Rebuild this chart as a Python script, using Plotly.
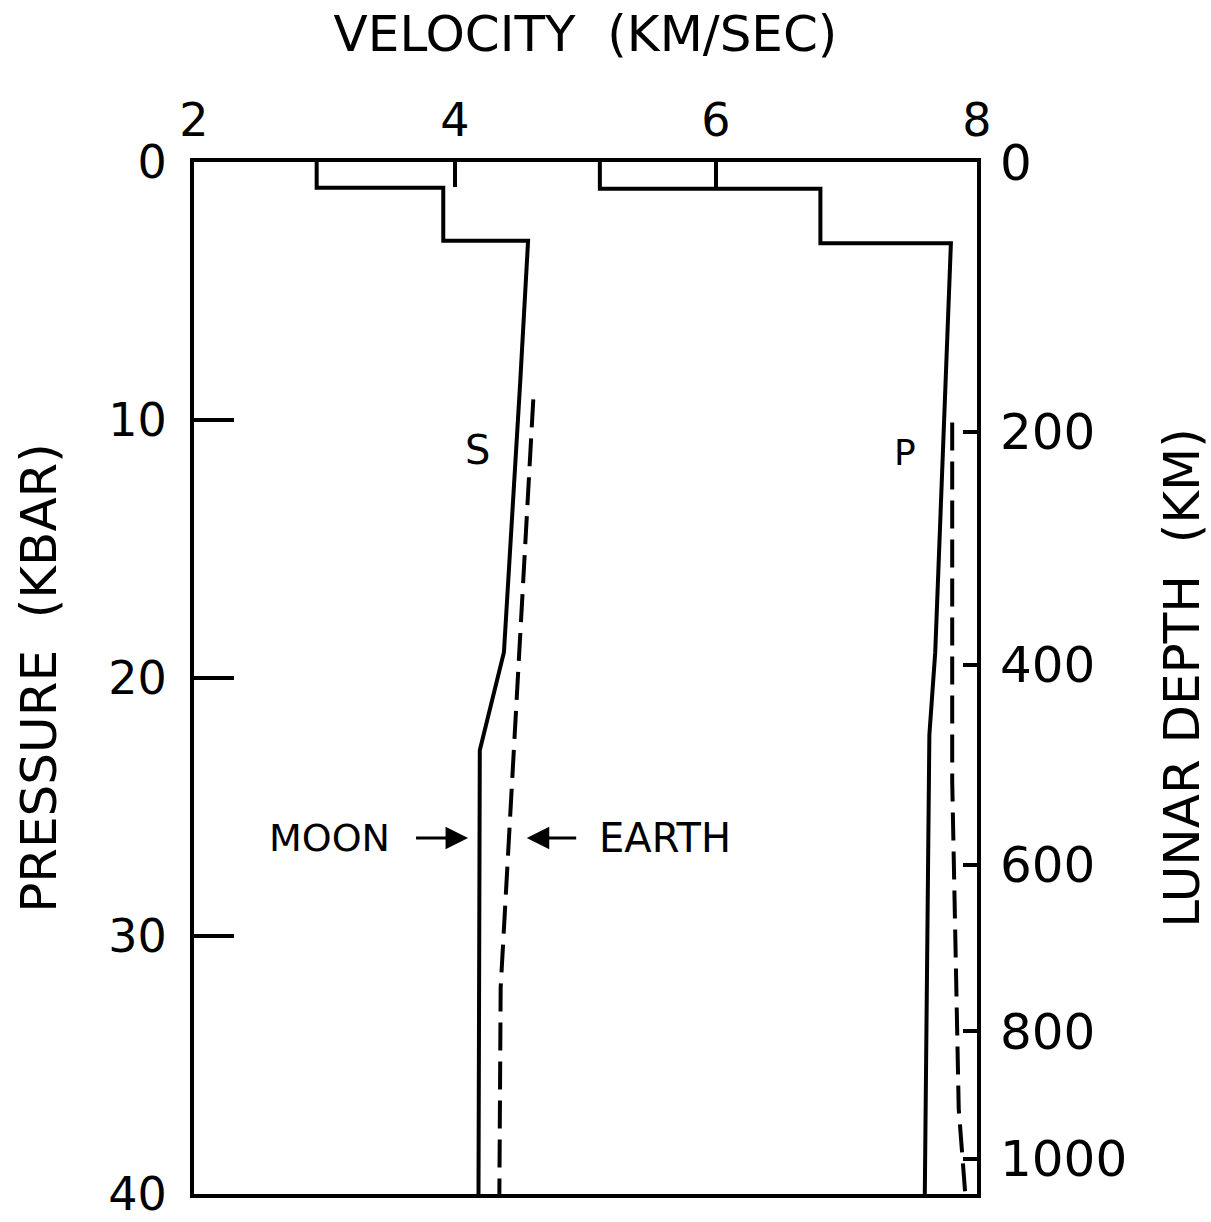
import plotly.graph_objects as go

# Moon velocity profiles (pressure in kbar, velocity in km/sec)
s_moon_pressure = [0, 1.0, 1.0, 3.05, 3.05, 8.5, 19.0, 22.8, 40]
s_moon_velocity = [2.94, 2.94, 3.91, 3.91, 4.56, 4.50, 4.375, 4.19, 4.18]

p_moon_pressure = [0, 1.04, 1.04, 3.15, 3.15, 19.0, 22.2, 40]
p_moon_velocity = [5.11, 5.11, 6.80, 6.80, 7.80, 7.68, 7.635, 7.60]

# Earth reference profiles
s_earth_pressure = [9.2, 26.5, 32.0, 40]
s_earth_velocity = [4.60, 4.405, 4.35, 4.34]

p_earth_pressure = [10.1, 24.0, 31.6, 36.7, 40]
p_earth_velocity = [7.81, 7.81, 7.84, 7.86, 7.91]

# Axis ticks
velocity_ticks = [2, 4, 6, 8]
pressure_ticks = [0, 10, 20, 30, 40]
lunar_depth_labels = ["0", "200", "400", "600", "800", "1000"]
lunar_depth_pressure = [0, 10.45, 19.48, 27.23, 33.7, 38.64]

FONT = "DejaVu Sans"
INK = "black"

fig = go.Figure()

solid = dict(color=INK, width=4)
dashed = dict(color=INK, width=4, dash="28px,11px")

fig.add_trace(go.Scatter(x=s_moon_velocity, y=s_moon_pressure, mode="lines",
                         line=solid, name="S moon", showlegend=False))
fig.add_trace(go.Scatter(x=p_moon_velocity, y=p_moon_pressure, mode="lines",
                         line=solid, name="P moon", showlegend=False))
fig.add_trace(go.Scatter(x=s_earth_velocity, y=s_earth_pressure, mode="lines",
                         line=dashed, name="S earth", showlegend=False))
fig.add_trace(go.Scatter(x=p_earth_velocity, y=p_earth_pressure, mode="lines",
                         line=dashed, name="P earth", showlegend=False))
# carrier for the lunar depth scale on the right
fig.add_trace(go.Scatter(x=[8] * len(lunar_depth_pressure), y=lunar_depth_pressure,
                         mode="markers", marker=dict(opacity=0), yaxis="y2",
                         hoverinfo="skip", showlegend=False))

axis_common = dict(showgrid=False, zeroline=False, ticks="inside", tickwidth=4,
                   tickcolor=INK, automargin=False, ticklabeloverflow="allow")

fig.update_layout(
    width=1211, height=1222, autosize=False,
    paper_bgcolor="white", plot_bgcolor="white",
    margin=dict(l=194, r=234, t=162, b=28),
    font=dict(family=FONT, color=INK),
    xaxis=dict(range=[2, 8], side="top", tickvals=velocity_ticks, ticklen=25,
               showline=True, linewidth=4, linecolor=INK, mirror=True,
               ticklabelstandoff=4,
               tickfont=dict(family=FONT, size=46, color=INK),
               title=dict(text="VELOCITY  (KM/SEC)", font=dict(size=50, family=FONT),
                          standoff=26),
               **axis_common),
    yaxis=dict(range=[40, 0], tickvals=pressure_ticks, ticklen=40,
               showline=True, linewidth=4, linecolor=INK, mirror=True,
               ticklabelstandoff=14,
               tickfont=dict(family=FONT, size=46, color=INK),
               title=dict(text="PRESSURE  (KBAR)", font=dict(size=50, family=FONT),
                          standoff=37),
               **axis_common),
    yaxis2=dict(range=[40, 0], overlaying="y", side="right", anchor="x",
                tickvals=lunar_depth_pressure, ticktext=lunar_depth_labels,
                ticklen=14, showline=False, ticklabelstandoff=22,
                tickfont=dict(family=FONT, size=50, color=INK),
                title=dict(text="LUNAR DEPTH  (KM)", font=dict(size=50, family=FONT),
                           standoff=40),
                **axis_common),
)

label_font = dict(family=FONT, size=40, color=INK)
fig.add_annotation(x=4.17, y=11.15, text="S", showarrow=False, font=label_font)
fig.add_annotation(x=7.45, y=11.26, text="P", showarrow=False,
                   font=dict(family=FONT, size=36, color=INK))
fig.add_annotation(x=3.04, y=26.2, text="MOON", showarrow=False,
                   font=dict(family=FONT, size=38, color=INK))
fig.add_annotation(x=5.61, y=26.2, text="EARTH", showarrow=False, font=label_font)
# arrows pointing at the two S profiles
fig.add_annotation(x=4.10, y=26.2, ax=3.69, ay=26.2, axref="x", ayref="y",
                   text="", showarrow=True, arrowhead=2, arrowsize=1.5,
                   arrowwidth=3, arrowcolor=INK)
fig.add_annotation(x=4.55, y=26.2, ax=4.94, ay=26.2, axref="x", ayref="y",
                   text="", showarrow=True, arrowhead=2, arrowsize=1.5,
                   arrowwidth=3, arrowcolor=INK)

fig.write_html("out.html")
